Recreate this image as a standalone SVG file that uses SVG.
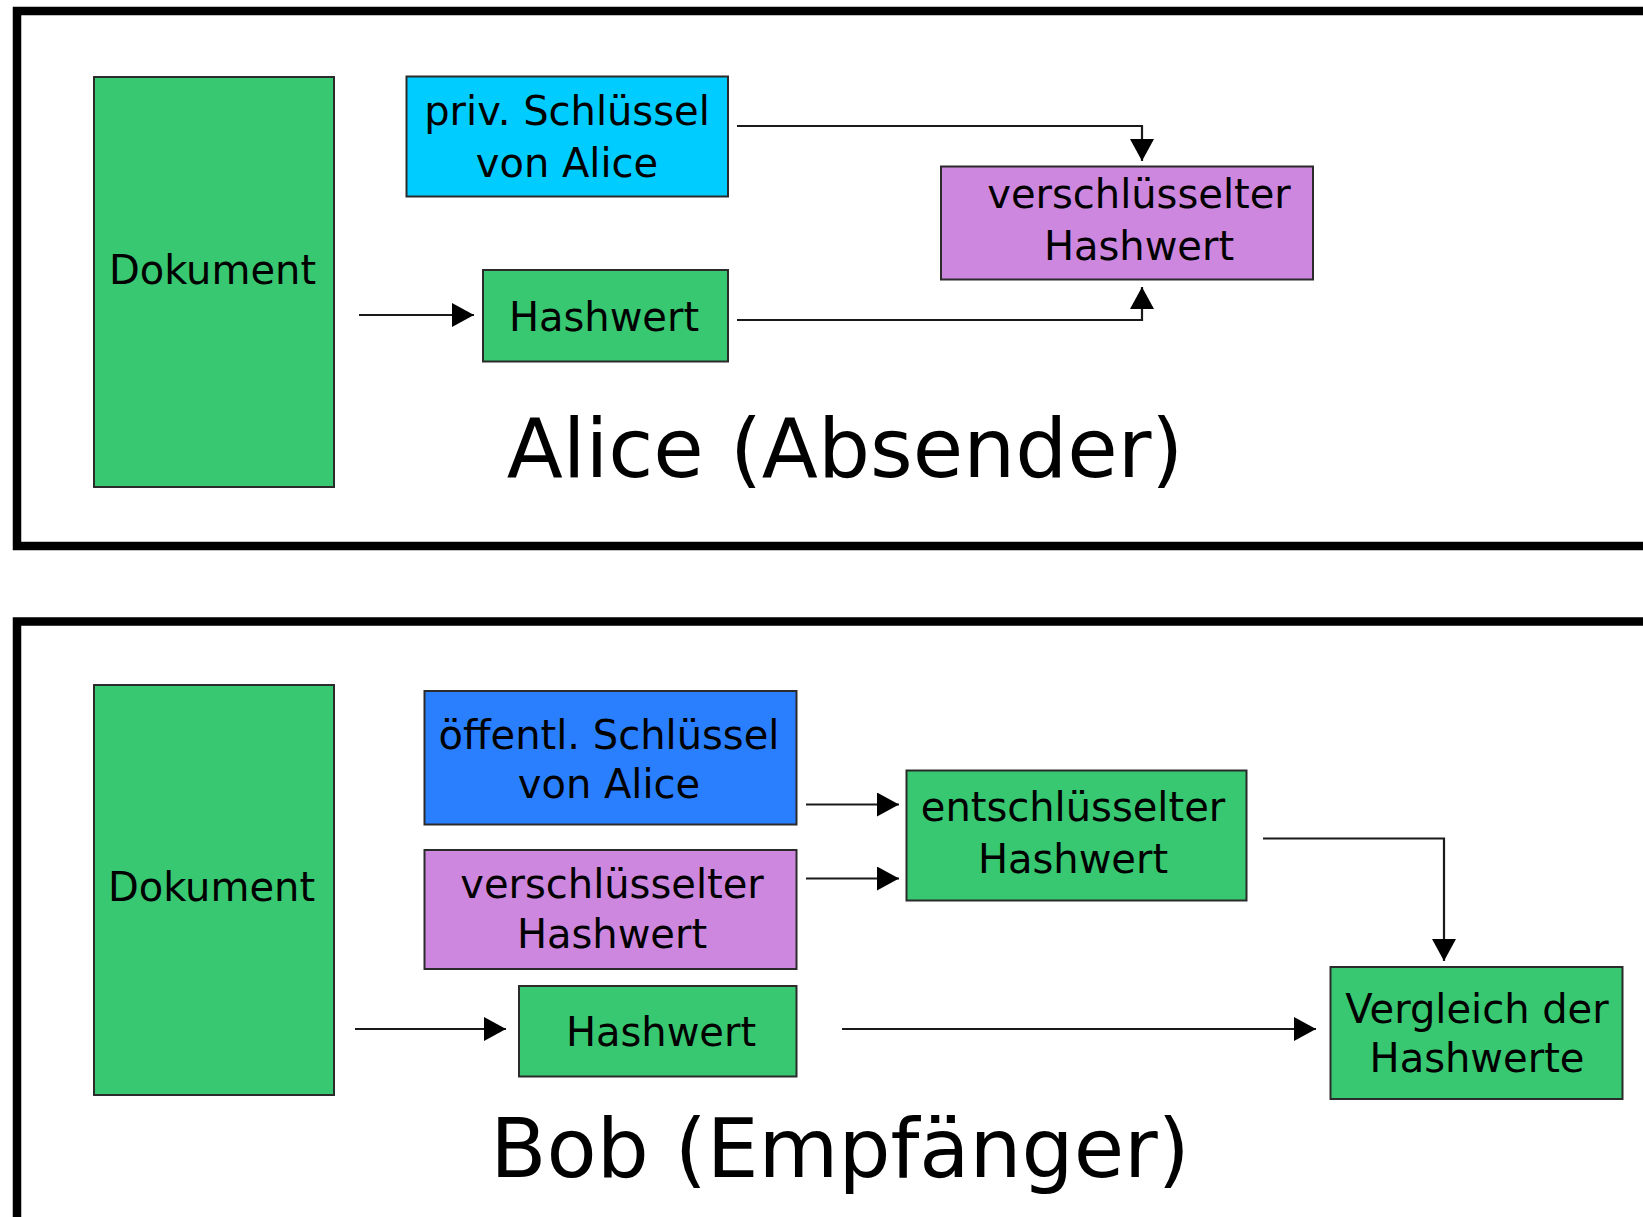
<svg xmlns="http://www.w3.org/2000/svg" width="1643" height="1217" viewBox="0 0 1643 1217">
<style>
.box{stroke:#2b2b2b;stroke-width:2}
.g{fill:#37c871}.c{fill:#00ccff}.b{fill:#2a7fff}.p{fill:#cd87de}
.frame{fill:none;stroke:#000;stroke-width:8.5}
.t{font-family:"DejaVu Sans","Liberation Sans",sans-serif;font-size:40px;fill:#000;text-anchor:middle}
.big{font-family:"DejaVu Sans","Liberation Sans",sans-serif;font-size:82px;fill:#000;text-anchor:middle}
.con{fill:none;stroke:#1a1a1a;stroke-width:2.2;marker-end:url(#ah)}
</style>
<defs>
<marker id="ah" markerUnits="userSpaceOnUse" markerWidth="22" markerHeight="24" refX="22" refY="12" orient="auto">
<path d="M0,0 L22,12 L0,24 z" fill="#000"/>
</marker>
</defs>
<rect width="1643" height="1217" fill="#fff"/>
<g id="frame-alice"><rect class="frame" x="17" y="11" width="1700" height="535"/></g>
<g id="frame-bob"><rect class="frame" x="17" y="621.5" width="1700" height="700"/></g>

<g id="alice-dokument"><rect class="box g" x="94" y="77" width="240" height="410"/><text class="t" x="212.5" y="284">Dokument</text></g>
<g id="alice-privkey"><rect class="box c" x="406.5" y="76.5" width="321.5" height="120"/><text class="t" x="567" y="125">priv. Schlüssel</text><text class="t" x="567" y="177">von Alice</text></g>
<g id="alice-hashwert"><rect class="box g" x="483" y="270" width="245" height="91.5"/><text class="t" x="604" y="331">Hashwert</text></g>
<g id="alice-verschl"><rect class="box p" x="941" y="166.5" width="372" height="113"/><text class="t" x="1139" y="208">verschlüsselter</text><text class="t" x="1139" y="260">Hashwert</text></g>
<g id="alice-label"><text class="big" x="845" y="477">Alice (Absender)</text></g>

<g id="bob-dokument"><rect class="box g" x="94" y="685" width="240" height="410"/><text class="t" x="211.5" y="901">Dokument</text></g>
<g id="bob-pubkey"><rect class="box b" x="424.5" y="691" width="372" height="133.5"/><text class="t" x="609" y="749">öffentl. Schlüssel</text><text class="t" x="609" y="798">von Alice</text></g>
<g id="bob-verschl"><rect class="box p" x="424.5" y="850" width="372" height="119"/><text class="t" x="612" y="898">verschlüsselter</text><text class="t" x="612" y="948">Hashwert</text></g>
<g id="bob-hashwert"><rect class="box g" x="519" y="986" width="277.5" height="90.5"/><text class="t" x="661" y="1046">Hashwert</text></g>
<g id="bob-entschl"><rect class="box g" x="906.5" y="770.5" width="340" height="130"/><text class="t" x="1073" y="821">entschlüsselter</text><text class="t" x="1073" y="873">Hashwert</text></g>
<g id="bob-vergleich"><rect class="box g" x="1330.5" y="967" width="292" height="132"/><text class="t" x="1477" y="1023">Vergleich der</text><text class="t" x="1477" y="1072">Hashwerte</text></g>
<g id="bob-label"><text class="big" x="840" y="1177">Bob (Empfänger)</text></g>

<g id="connectors">
<path class="con" d="M359,315 H474"/>
<path class="con" d="M737,126 H1142 V161"/>
<path class="con" d="M737,320 H1142 V287"/>
<path class="con" d="M806,804.5 H899"/>
<path class="con" d="M806,878.5 H899"/>
<path class="con" d="M355,1029 H506"/>
<path class="con" d="M842,1029 H1316"/>
<path class="con" d="M1263,838.5 H1444 V961"/>
</g>
</svg>
